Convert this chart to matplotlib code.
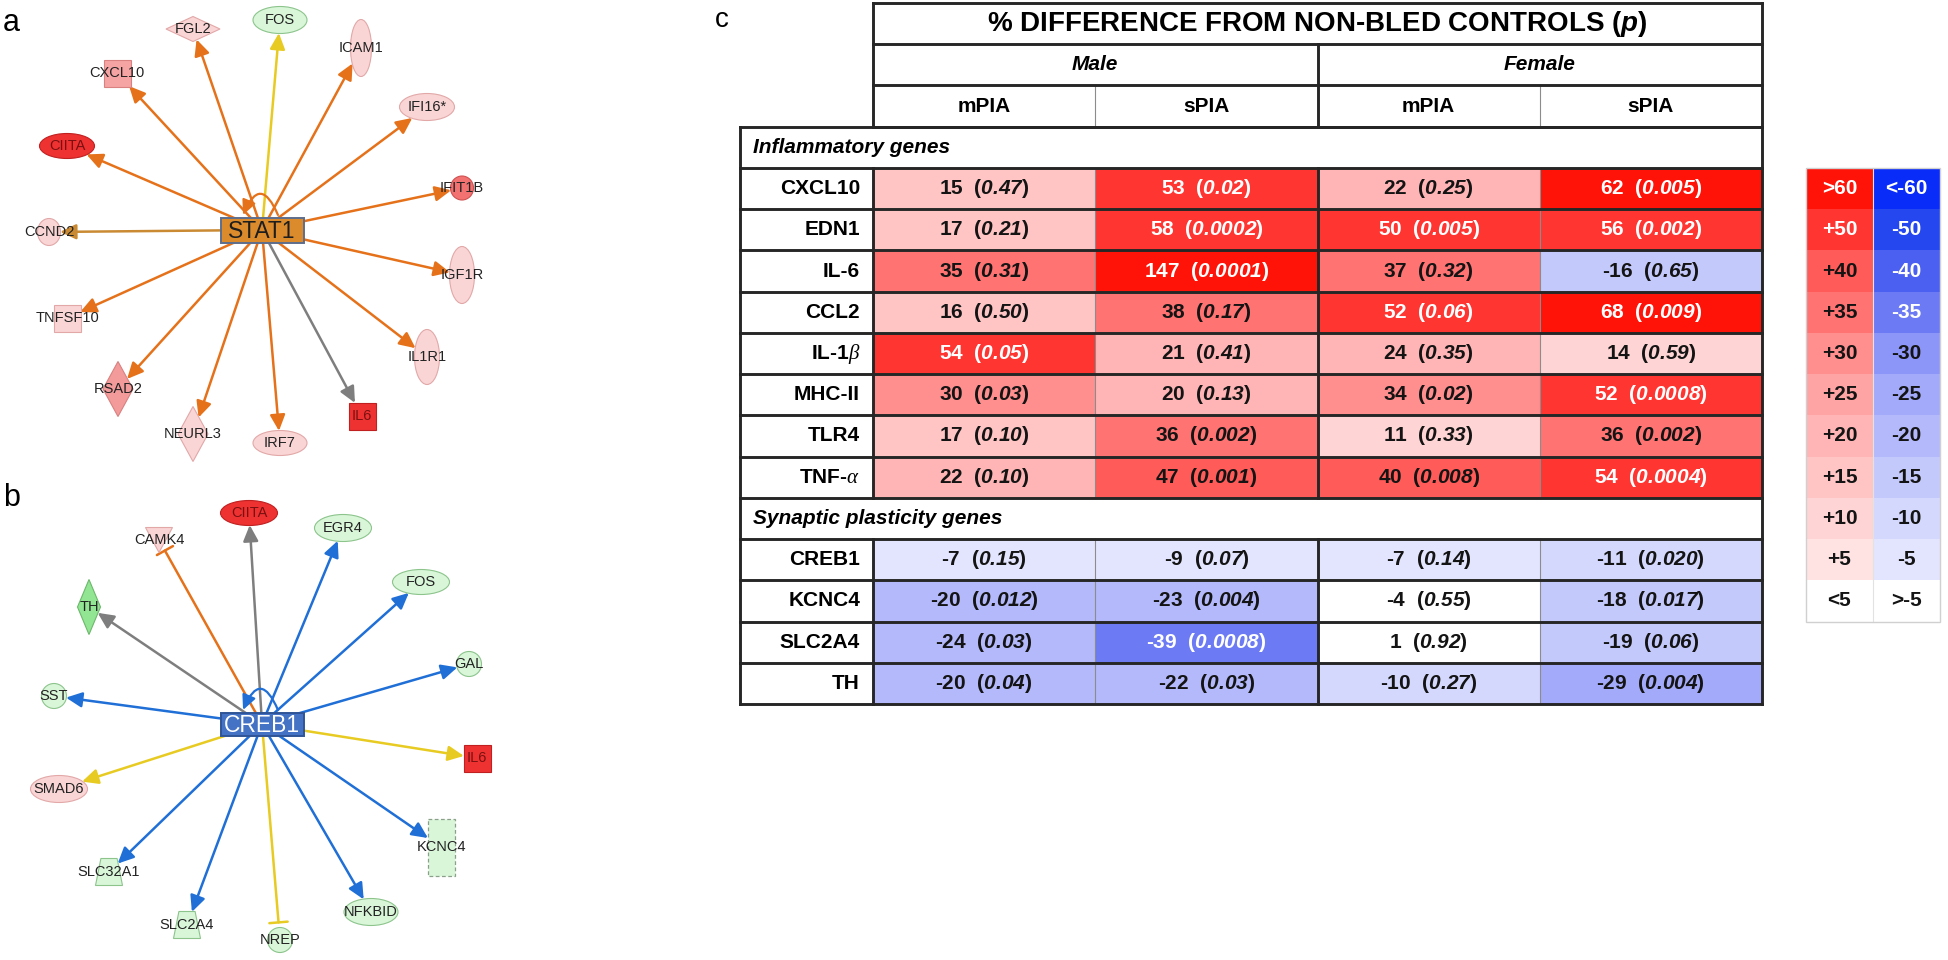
import matplotlib
matplotlib.use("Agg")
import matplotlib.pyplot as plt
from matplotlib.patches import Rectangle, Ellipse, Polygon, FancyArrowPatch, ArrowStyle
import numpy as np

plt.rcParams['font.family'] = ['Liberation Sans', 'DejaVu Sans']
plt.rcParams['mathtext.fontset'] = 'custom'
plt.rcParams['mathtext.rm'] = 'Liberation Sans:bold'
plt.rcParams['mathtext.bf'] = 'Liberation Sans:bold'
plt.rcParams['mathtext.it'] = 'Liberation Sans:italic:bold'
plt.rcParams['mathtext.cal'] = 'Liberation Sans:italic:bold'
plt.rcParams['mathtext.sf'] = 'Liberation Serif:italic'

# ---------------- table data ----------------
title = r"% DIFFERENCE FROM NON-BLED CONTROLS ($\mathcal{p}$)"
sexes = ["Male", "Female"]
treatments = ["mPIA", "sPIA"]
sections = ["Inflammatory genes", "Synaptic plasticity genes"]

inflam_genes = ["CXCL10", "EDN1", "IL-6", "CCL2", r"IL-1$\mathsf{\beta}$",
                "MHC-II", "TLR4", r"TNF-$\mathsf{\alpha}$"]
inflam_pct = [[15, 53, 22, 62],
              [17, 58, 50, 56],
              [35, 147, 37, -16],
              [16, 38, 52, 68],
              [54, 21, 24, 14],
              [30, 20, 34, 52],
              [17, 36, 11, 36],
              [22, 47, 40, 54]]
inflam_p = [["0.47", "0.02", "0.25", "0.005"],
            ["0.21", "0.0002", "0.005", "0.002"],
            ["0.31", "0.0001", "0.32", "0.65"],
            ["0.50", "0.17", "0.06", "0.009"],
            ["0.05", "0.41", "0.35", "0.59"],
            ["0.03", "0.13", "0.02", "0.0008"],
            ["0.10", "0.002", "0.33", "0.002"],
            ["0.10", "0.001", "0.008", "0.0004"]]

syn_genes = ["CREB1", "KCNC4", "SLC2A4", "TH"]
syn_pct = [[-7, -9, -7, -11],
           [-20, -23, -4, -18],
           [-24, -39, 1, -19],
           [-20, -22, -10, -29]]
syn_p = [["0.15", "0.07", "0.14", "0.020"],
         ["0.012", "0.004", "0.55", "0.017"],
         ["0.03", "0.0008", "0.92", "0.06"],
         ["0.04", "0.03", "0.27", "0.004"]]

# colour key: bin edges on |% difference|
bin_edges = [5, 10, 15, 20, 25, 30, 35, 40, 50, 60]
key_up = ["<5", "+5", "+10", "+15", "+20", "+25", "+30", "+35", "+40", "+50", ">60"]
key_down = [">-5", "-5", "-10", "-15", "-20", "-25", "-30", "-35", "-40", "-50", "<-60"]

reds = ["#FFFFFF", "#FFE3E3", "#FFD4D4", "#FFC5C5", "#FFB5B5", "#FFA4A4",
        "#FF8E8E", "#FF7373", "#FF5B58", "#FF3532", "#FF1208"]
blues = ["#FFFFFF", "#E3E5FE", "#D4D8FD", "#C4C9FC", "#B3B9FB", "#A3AAFA",
         "#8C96F8", "#6C7AF4", "#4B60F1", "#2447F0", "#0A2CF8"]

# ---------------- network data ----------------
# name, shape, fill, edge type
stat1_nodes = [("FOS", "ellipse", "green", "act_y"),
               ("FGL2", "diamond", "pink", "act_o"),
               ("CXCL10", "square", "pink2", "act_o"),
               ("ICAM1", "ellipse", "pink", "act_o"),
               ("IFI16*", "ellipse", "pink", "act_o"),
               ("CIITA", "ellipse", "red", "act_o"),
               ("IFIT1B", "ellipse", "red2", "act_o"),
               ("CCND2", "ellipse", "pink", "act_t"),
               ("IGF1R", "ellipse", "pink", "act_o"),
               ("TNFSF10", "square", "pink", "act_o"),
               ("IL1R1", "ellipse", "pink", "act_o"),
               ("RSAD2", "diamond", "pink3", "act_o"),
               ("IL6", "square", "red", "act_g"),
               ("NEURL3", "diamond", "pink", "act_o"),
               ("IRF7", "ellipse", "pink", "act_o")]
creb1_nodes = [("CIITA", "ellipse", "red", "act_g"),
               ("CAMK4", "vtri", "pink", "inh_o"),
               ("EGR4", "ellipse", "green", "act_b"),
               ("FOS", "ellipse", "green", "act_b"),
               ("TH", "diamond", "green2", "act_g"),
               ("GAL", "ellipse", "green", "act_b"),
               ("SST", "ellipse", "green", "act_b"),
               ("IL6", "square", "red", "act_y"),
               ("SMAD6", "ellipse", "pink", "act_y"),
               ("KCNC4", "dashrect", "green", "act_b"),
               ("SLC32A1", "trap", "green", "act_b"),
               ("NFKBID", "ellipse", "green", "act_b"),
               ("SLC2A4", "trap", "green", "act_b"),
               ("NREP", "ellipse", "green", "inh_y")]

# layout (pixel positions and node sizes)
stat1_xy = {"FOS": (280, 20, 54, 27), "FGL2": (193, 29, 54, 25), "CXCL10": (117, 73, 27, 27),
            "ICAM1": (361, 48, 21, 57), "IFI16*": (427, 107, 55, 27), "CIITA": (67, 146, 55, 25),
            "IFIT1B": (462, 188, 23, 24), "CCND2": (49, 232, 23, 27), "IGF1R": (462, 275, 25, 57),
            "TNFSF10": (67, 318, 27, 27), "IL1R1": (427, 357, 25, 55), "RSAD2": (118, 389, 30, 55),
            "IL6": (362, 416, 27, 27), "NEURL3": (193, 434, 30, 55), "IRF7": (280, 443, 54, 25)}
creb1_xy = {"CIITA": (249, 513, 57, 25), "CAMK4": (159, 540, 27, 25), "EGR4": (343, 528, 57, 27),
            "FOS": (421, 582, 57, 25), "TH": (89, 607, 23, 55), "GAL": (469, 664, 25, 25),
            "SST": (54, 696, 25, 25), "IL6": (477, 758, 27, 27), "SMAD6": (59, 789, 57, 27),
            "KCNC4": (441, 847, 27, 57), "SLC32A1": (109, 872, 27, 27), "NFKBID": (371, 912, 54, 27),
            "SLC2A4": (187, 925, 27, 27), "NREP": (280, 940, 25, 25)}

fills = {"pink": ("#FAD5D5", "#E2A8A8"), "pink2": ("#F5A3A3", "#D98080"),
         "pink3": ("#F39B9B", "#D98080"), "red": ("#EE3232", "#C02020"),
         "red2": ("#F27272", "#D05050"), "green": ("#D9F6D9", "#8CC48C"),
         "green2": ("#92E592", "#6CB86C")}
edge_cols = {"o": "#E5721A", "y": "#E8CB22", "g": "#7E7E7E", "b": "#1F6FD6", "t": "#C98A33"}

fig = plt.figure(figsize=(19.48, 9.6), dpi=100)
ax = fig.add_axes([0, 0, 1, 1])
ax.set_xlim(0, 1948)
ax.set_ylim(960, 0)
ax.axis("off")


def node_patch(kind, x, y, w, h, fc, ec):
    if kind == "ellipse":
        return Ellipse((x, y), w, h, fc=fc, ec=ec, lw=0.8)
    if kind == "square":
        return Rectangle((x - w / 2, y - h / 2), w, h, fc=fc, ec=ec, lw=0.8)
    if kind == "dashrect":
        return Rectangle((x - w / 2, y - h / 2), w, h, fc=fc, ec="#8AA08A", lw=0.9, ls=(0, (3, 2)))
    if kind == "diamond":
        pts = [(x, y - h / 2), (x + w / 2, y), (x, y + h / 2), (x - w / 2, y)]
    elif kind == "vtri":
        pts = [(x - w / 2, y - h / 2), (x + w / 2, y - h / 2), (x, y + h / 2)]
    else:  # trapezoid
        pts = [(x - w * 0.3, y - h / 2), (x + w * 0.3, y - h / 2), (x + w / 2, y + h / 2), (x - w / 2, y + h / 2)]
    return Polygon(pts, closed=True, fc=fc, ec=ec, lw=0.8)


def draw_network(hub, hub_xy, hub_fc, hub_ec, hub_tc, loop_col, nodes, layout):
    hx, hy, bw, bh = hub_xy
    for name, kind, fill, etype in nodes:
        x, y, w, h = layout[name]
        fc, ec = fills[fill]
        p = node_patch(kind, x, y, w, h, fc, ec)
        p.set_zorder(2)
        ax.add_patch(p)
        tc = "#7A1010" if fill == "red" else "#222222"
        ax.text(x, y, name, ha="center", va="center", fontsize=10.5, color=tc, zorder=3)
        col = edge_cols[etype[-1]]
        if etype.startswith("inh"):
            style = ArrowStyle("-[", widthB=0.55, lengthB=0.0)
            shrink = 4
        else:
            style = ArrowStyle("-|>", head_length=0.8, head_width=0.38)
            shrink = 0
        arr = FancyArrowPatch((hx, hy), (x, y), patchB=p, arrowstyle=style,
                              mutation_scale=12, color=col, lw=1.8,
                              shrinkA=0, shrinkB=shrink, zorder=1)
        ax.add_patch(arr)
    loop = FancyArrowPatch((hx + 17, hy - bh / 2), (hx - 20, hy - bh / 2),
                           connectionstyle="arc3,rad=1.25",
                           arrowstyle=ArrowStyle("-|>", head_length=0.8, head_width=0.38),
                           mutation_scale=11, color=loop_col, lw=1.6, zorder=4)
    ax.add_patch(loop)
    ax.add_patch(Rectangle((hx - bw / 2, hy - bh / 2), bw, bh, fc=hub_fc, ec=hub_ec, lw=1.4, zorder=5))
    ax.text(hx, hy + 1, hub, ha="center", va="center", fontsize=16.5, color=hub_tc, zorder=6)


draw_network("STAT1", (262, 230, 83, 25), "#DB8A2C", "#5D6E8C", "#1E1E1E", edge_cols["o"],
             stat1_nodes, stat1_xy)
draw_network("CREB1", (262, 724, 83, 23), "#4472C4", "#2F5597", "white", edge_cols["b"],
             creb1_nodes, creb1_xy)

ax.text(11, 23, "a", fontsize=22, ha="center", va="center")
ax.text(12, 498, "b", fontsize=22, ha="center", va="center")
ax.text(722, 20, "c", fontsize=20, ha="center", va="center")

# ---------------- table ----------------
t_top, t_bot = 3, 704
n_rows = 17
rh = (t_bot - t_top) / n_rows
x_gene, x_data, x_right = 740, 873, 1762
cw = (x_right - x_data) / 4
dark = dict(color="#262626", lw=2.1, zorder=4, solid_capstyle="projecting")
thin = dict(color="#8C8C8C", lw=0.8, zorder=3)


def ry(i):
    return t_top + i * rh


def bin_of(v):
    return int(np.digitize(abs(v), bin_edges))


def cell_color(v):
    b = bin_of(v)
    return (reds if v >= 0 else blues)[b]


def text_color(v):
    b = bin_of(v)
    if (v >= 0 and b >= 9) or (v < 0 and b >= 7):
        return "white"
    return "#141414"


# header
ax.text((x_data + x_right) / 2, ry(0.5), title, ha="center", va="center",
        fontsize=20, fontweight="bold")
for s, sex in enumerate(sexes):
    ax.text(x_data + cw * (2 * s + 1), ry(1.5), sex, ha="center", va="center",
            fontsize=15, fontweight="bold", style="italic")
    for t, tr in enumerate(treatments):
        ax.text(x_data + cw * (2 * s + t + 0.5), ry(2.5), tr, ha="center", va="center",
                fontsize=15, fontweight="bold")
for i in range(4):
    ax.plot([x_data, x_right], [ry(i), ry(i)], **dark)
ax.plot([x_data, x_data], [ry(0), ry(3)], **dark)
ax.plot([x_right, x_right], [ry(0), ry(3)], **dark)
ax.plot([x_data + 2 * cw] * 2, [ry(1), ry(3)], **dark)
for c in (1, 3):
    ax.plot([x_data + c * cw] * 2, [ry(2), ry(3)], **thin)

# body
blocks = [(sections[0], inflam_genes, inflam_pct, inflam_p, 3),
          (sections[1], syn_genes, syn_pct, syn_p, 12)]
for sec, genes, pct, pv, r0 in blocks:
    ax.text(x_gene + 13, ry(r0 + 0.5), sec, ha="left", va="center",
            fontsize=15, fontweight="bold", style="italic")
    for g, gene in enumerate(genes):
        r = r0 + 1 + g
        ax.text(x_data - 13, ry(r + 0.5), gene, ha="right", va="center",
                fontsize=15, fontweight="bold")
        for c in range(4):
            v = pct[g][c]
            ax.add_patch(Rectangle((x_data + c * cw, ry(r)), cw, rh, fc=cell_color(v), ec="none", zorder=1))
            label = f"{v}  (" + r"$\mathcal{" + pv[g][c] + "}$)"
            ax.text(x_data + (c + 0.5) * cw, ry(r + 0.5), label, ha="center", va="center",
                    fontsize=15, fontweight="bold", color=text_color(v), zorder=5)
        ax.plot([x_data, x_data], [ry(r), ry(r + 1)], **dark)
        ax.plot([x_data + 2 * cw] * 2, [ry(r), ry(r + 1)], **dark)
        for c in (1, 3):
            ax.plot([x_data + c * cw] * 2, [ry(r), ry(r + 1)], **thin)
for i in range(3, n_rows + 1):
    ax.plot([x_gene, x_right], [ry(i), ry(i)], **dark)
ax.plot([x_gene, x_gene], [ry(3), ry(n_rows)], **dark)
ax.plot([x_right, x_right], [ry(3), ry(n_rows)], **dark)

# colour key
k_left, k_w = 1806, 67
n_key = len(key_up)
for k in range(n_key):
    b = n_key - 1 - k
    y0 = ry(4 + k)
    ax.add_patch(Rectangle((k_left, y0), k_w, rh, fc=reds[b], ec="none", zorder=1))
    ax.add_patch(Rectangle((k_left + k_w, y0), k_w, rh, fc=blues[b], ec="none", zorder=1))
    ax.text(k_left + k_w / 2, y0 + rh / 2, key_up[b], ha="center", va="center", fontsize=15,
            fontweight="bold", color="white" if b >= 9 else "#141414", zorder=5)
    ax.text(k_left + 1.5 * k_w, y0 + rh / 2, key_down[b], ha="center", va="center", fontsize=15,
            fontweight="bold", color="white" if b >= 7 else "#141414", zorder=5)
ax.add_patch(Rectangle((k_left, ry(4)), 2 * k_w, n_key * rh, fc="none", ec="#D0D0D0", lw=1.0, zorder=4))
ax.plot([k_left + k_w] * 2, [ry(4), ry(4 + n_key)], color="#E2E2E2", lw=0.8, zorder=3)

fig.savefig("out.png", dpi=100)
